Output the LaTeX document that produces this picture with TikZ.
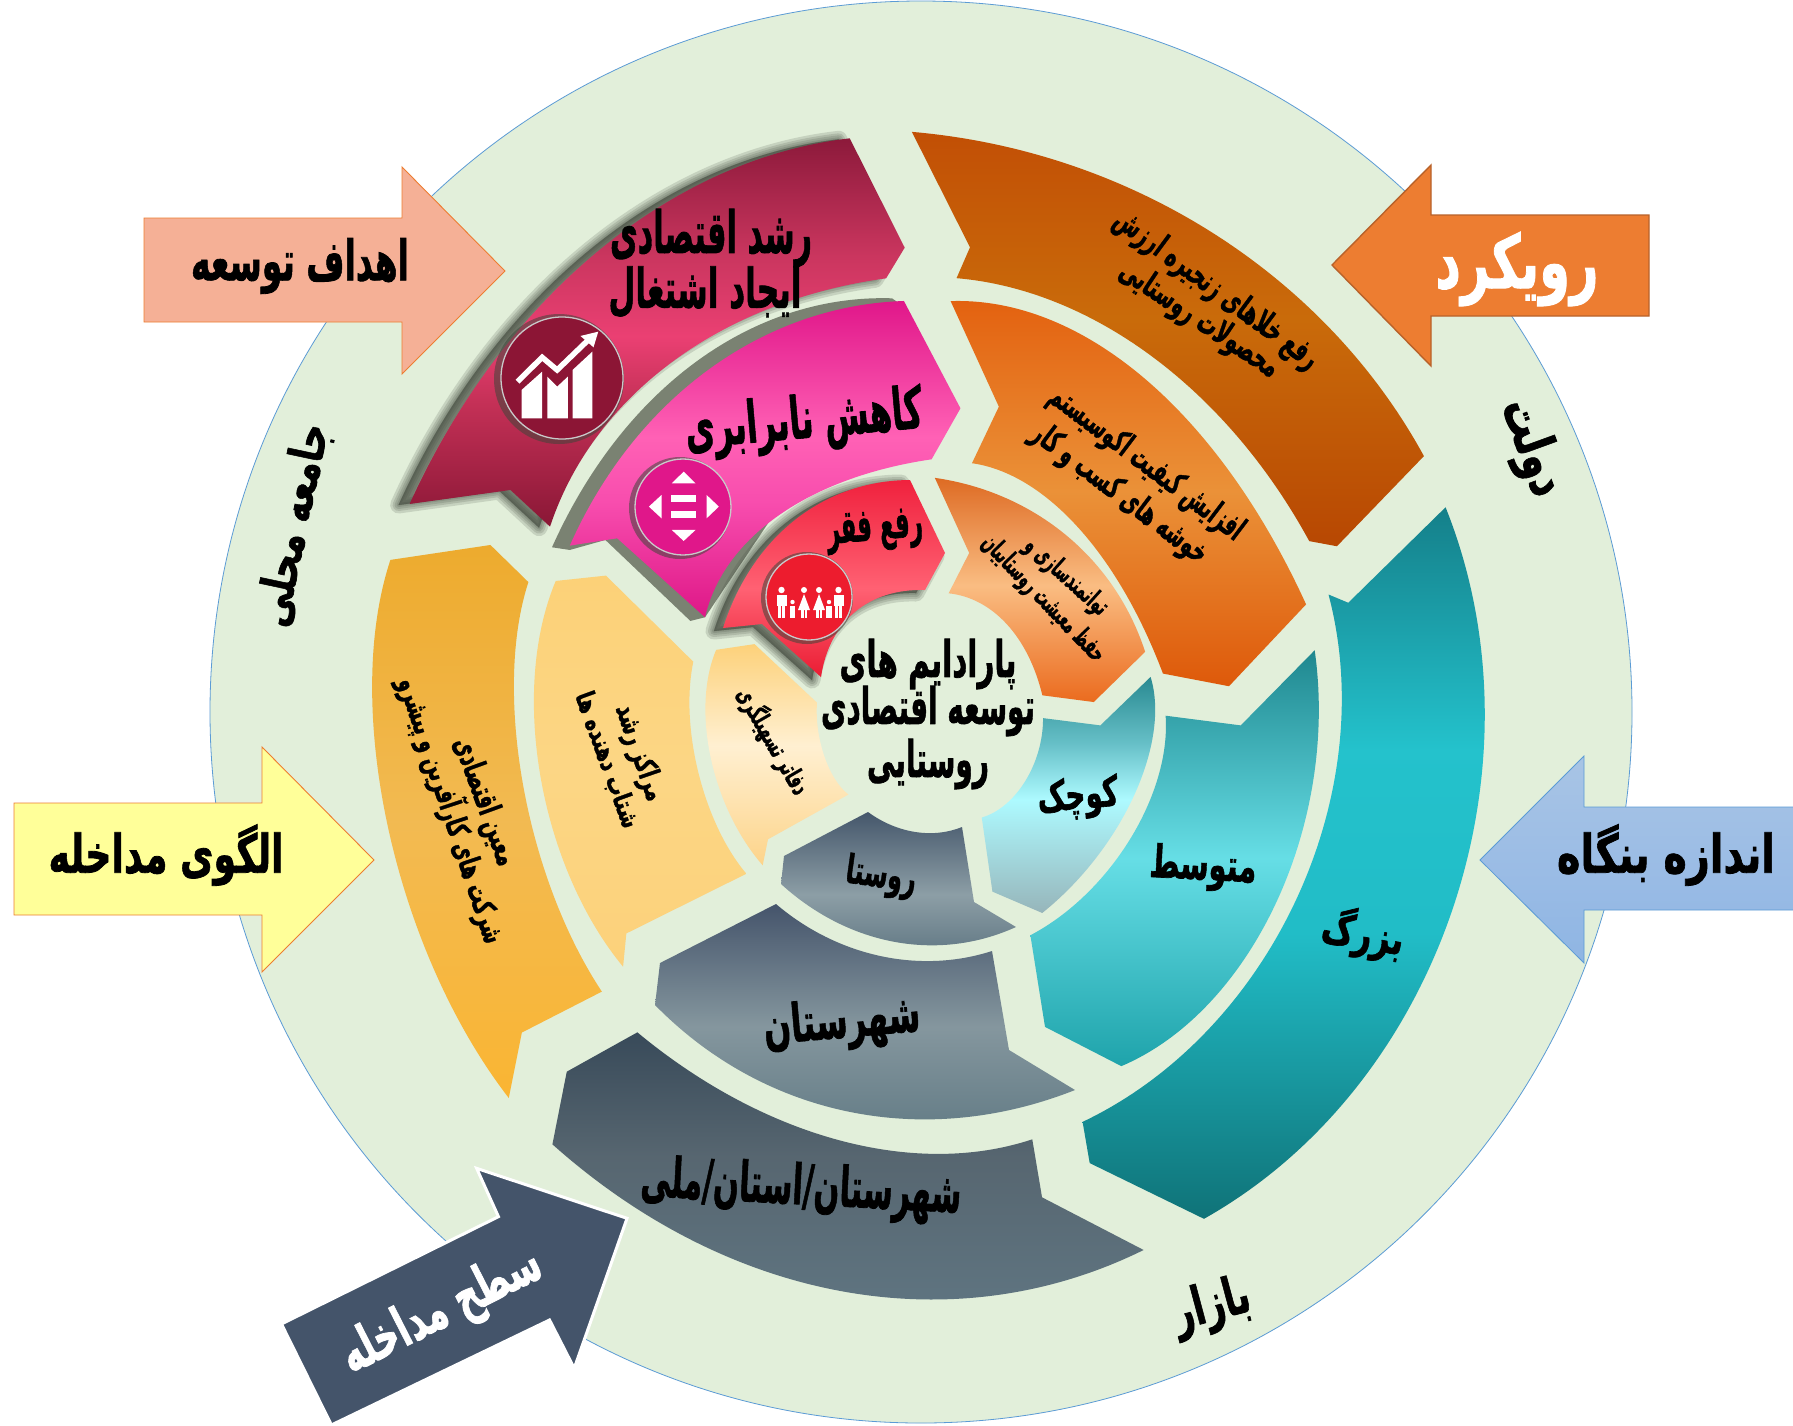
\documentclass[tikz,border=0pt]{standalone}
\usepackage{fontspec}
\usepackage{graphicx}
\usetikzlibrary{calc}
\newfontfamily\arabicfont[Script=Arabic,FakeBold=1.5]{DejaVu Sans Bold}
\TeXXeTstate=1
\newcommand\fa[3]{\resizebox{#1pt}{\totalheight}{\fontsize{#2pt}{#2pt}\selectfont\arabicfont #3}}
\newcommand\defgrad[4]{\pgfdeclareverticalshading{#1}{100bp}{rgb(0bp)=(#2);rgb(25bp)=(#2);#3;rgb(75bp)=(#4);rgb(100bp)=(#4)}}
% a cubic through P0, M, P3 (weights chosen so that it follows a circular arc)
\newcommand\arcg[5]{.. controls ($1.3333*#2+#4*#1-#5*#3$) and ($1.3333*#2-#5*#1+#4*#3$) .. #3}
\newcommand\arcA[3]{\arcg{#1}{#2}{#3}{.0233}{.3567}}
\newcommand\arcB[3]{\arcg{#1}{#2}{#3}{.0583}{.3917}}
\definecolor{shc}{HTML}{3E463A}
\definecolor{grayband}{HTML}{7A8272}
\definecolor{bgc}{HTML}{E2EFDA}
\definecolor{ringc}{HTML}{5B9BD5}
\definecolor{salmonfill}{HTML}{F5B096}
\definecolor{salmonline}{HTML}{ED7D31}
\definecolor{arrowor}{HTML}{ED7D31}
\definecolor{arroworline}{HTML}{B8622A}
\definecolor{yellowfill}{HTML}{FFFF99}
\definecolor{navyfill}{HTML}{44546A}
\definecolor{iconred}{HTML}{8C1535}
\definecolor{iconmag}{HTML}{E0178A}
\definecolor{iconrose}{HTML}{ED1C2E}
\definecolor{ringgray}{HTML}{C9C9C9}
% 25bp = bottom of the shape, 75bp = top
\defgrad{gRosht}{.54,.09,.21}{rgb(41bp)=(.77,.19,.34);rgb(49.5bp)=(.92,.25,.45);rgb(60bp)=(.79,.21,.37)}{.55,.10,.23}
\defgrad{gKah}{.87,.09,.53}{rgb(43bp)=(.97,.30,.68);rgb(53.5bp)=(1,.38,.71)}{.88,.09,.54}
\defgrad{gRafe}{.92,.11,.20}{rgb(47.5bp)=(1,.38,.45)}{.94,.13,.24}
\defgrad{gOrA}{.72,.28,.01}{rgb(52.5bp)=(.79,.42,.04)}{.76,.31,.02}
\defgrad{gOrB}{.87,.35,.04}{rgb(50bp)=(.92,.57,.22)}{.89,.38,.06}
\defgrad{gOrC}{.92,.42,.12}{rgb(51bp)=(.98,.74,.51)}{.87,.42,.14}
\defgrad{gTeA}{.06,.45,.47}{rgb(45bp)=(.13,.74,.78);rgb(58bp)=(.14,.76,.80)}{.08,.50,.54}
\defgrad{gTeB}{.12,.64,.67}{rgb(50bp)=(.40,.87,.90)}{.12,.53,.56}
\defgrad{gTeC}{.59,.71,.73}{rgb(49bp)=(.68,.98,1);rgb(61bp)=(.40,.75,.78)}{.16,.54,.57}
\defgrad{gYeA}{.98,.71,.20}{rgb(50bp)=(.95,.73,.32)}{.93,.67,.18}
\defgrad{gYeB}{.99,.82,.48}{rgb(50bp)=(.99,.84,.52)}{.99,.82,.47}
\defgrad{gYeC}{.99,.83,.54}{rgb(52bp)=(1,.94,.82)}{.99,.82,.48}
\defgrad{gGrA}{.36,.45,.50}{rgb(47.5bp)=(.55,.62,.65)}{.27,.34,.42}
\defgrad{gGrB}{.37,.47,.51}{rgb(50bp)=(.52,.59,.62)}{.27,.33,.42}
\defgrad{gGrC}{.38,.47,.52}{rgb(55bp)=(.34,.40,.44)}{.22,.29,.35}
\defgrad{gBlue}{.56,.71,.89}{rgb(50bp)=(.61,.74,.90)}{.66,.77,.90}
\tikzset{
 zA/.style={shift={(380,120)},x=.3954pt,y=-.3333pt},
 zB/.style={shift={(900,120)},x=.3954pt,y=-.3954pt},
 zC/.style={shift={(370,540)},x=.4082pt,y=-.3827pt},
 zD/.style={shift={(960,500)},x=.3954pt,y=-.4847pt},
 zE/.style={shift={(270,1000)},x=.574pt,y=-.3333pt},
 lab/.style={inner sep=0pt,outer sep=0pt,text=black},
 wlab/.style={inner sep=0pt,outer sep=0pt,text=white},
 ico/.style={fill=white,draw=none}
}
\newcommand\softsh[3]{\foreach \w in {17,12,8,4,1}{\draw[shc,fill=shc,opacity=.17,line width=\w pt,line join=round,xshift=#2pt,yshift=#3pt] #1;}}
\begin{document}
\begin{tikzpicture}[x=1pt,y=-1pt,line join=miter]
\useasboundingbox (0,0) rectangle (1793,1425);
\fill[white] (0,0) rectangle (1793,1425);
\filldraw[fill=bgc,draw=ringc,line width=.8pt] (921,712) circle[radius=711pt];

% --- upper left: goals
\begin{scope}[zA]
\def\pRosht{(75,1152) \arcA{(75,1152)}{(550,395)}{(1188,55)} -- (1327,383) -- (1280,475) \arcA{(1280,475)}{(740,725)}{(430,1220)} -- (330,1110) -- cycle}
\softsh{\pRosht}{-11}{-1}
\shade[shading=gRosht] \pRosht;
\fill[grayband] (435,1282) \arcA{(435,1282)}{(800,725)}{(1295,535)} -- (1325,560) -- (1100,1000) -- (822,1492) -- (785,1503) -- (570,1260) -- (480,1290) -- cycle;
\shade[shading=gKah] (480,1277) \arcA{(480,1277)}{(830,750)}{(1325,543)} -- (1468,865) -- (1395,1018) \arcA{(1395,1018)}{(1010,1185)}{(822,1492)} -- (600,1255) -- cycle;
\end{scope}
% poverty (coordinates in picture pixels)
\def\pRafe{(723,628) \arcA{(723,628)}{(795,520)}{(910,480)} -- (945,553) -- (925,590) \arcA{(925,590)}{(855,612)}{(821,677)} -- (762,624) -- cycle}
\softsh{\pRafe}{-9}{-3}
\shade[shading=gRafe] \pRafe;

% --- upper right: approach
\begin{scope}[zB]
\shade[shading=gOrA] (30,30) \arcA{(30,30)}{(790,285)}{(1325,850)} -- (1105,1078) -- (1035,1065) \arcA{(1035,1065)}{(640,600)}{(143,400)} -- (177,322) -- cycle;
\shade[shading=gOrB] (128,458) \arcA{(128,458)}{(620,655)}{(1027,1225)} -- (832,1432) -- (665,1400) \arcA{(665,1400)}{(450,1030)}{(182,868)} -- (250,725) -- cycle;
\shade[shading=gOrC] (88,905) \arcA{(88,905)}{(420,1050)}{(620,1345)} -- (490,1472) -- (360,1455) \arcA{(360,1455)}{(270,1275)}{(123,1197)} -- (175,1095) -- cycle;
\end{scope}

% --- lower right: firm size
\begin{scope}[zD]
\shade[shading=gTeA] (1228,15) \arcB{(1228,15)}{(1245,846)}{(617,1483)} -- (328,1368) -- (310,1283) \arcB{(310,1283)}{(850,825)}{(932,195)} -- (982,212) -- cycle;
\shade[shading=gTeB] (897,310) \arcB{(897,310)}{(800,830)}{(408,1168)} -- (215,1087) -- (178,898) \arcB{(178,898)}{(430,700)}{(520,445)} -- (710,465) -- cycle;
\shade[shading=gTeC] (482,365) \arcB{(482,365)}{(440,610)}{(208,852)} -- (82,808) -- (55,655) \arcB{(55,655)}{(165,580)}{(210,450)} -- (355,465) -- cycle;
\end{scope}

% --- left: intervention model
\begin{scope}[zC]
\shade[shading=gYeA] (50,52) -- (295,13) -- (388,110) \arcB{(388,110)}{(375,640)}{(568,1180)} -- (372,1287) -- (340,1458) \arcB{(340,1458)}{(45,755)}{(50,52)} -- cycle;
\shade[shading=gYeB] (455,107) -- (578,93) -- (792,318) \arcB{(792,318)}{(805,610)}{(922,872)} -- (628,1028) -- (620,1115) \arcB{(620,1115)}{(418,620)}{(455,107)} -- cycle;
\shade[shading=gYeC] (848,287) -- (942,272) -- (1095,425) \arcB{(1095,425)}{(1113,565)}{(1172,665)} -- (975,782) -- (962,850) \arcB{(962,850)}{(835,570)}{(848,287)} -- cycle;
\end{scope}

% --- bottom: level of intervention
\shade[shading=gGrA] (868,812) -- (784,856) -- (781,884) \arcA{(781,884)}{(895,942)}{(1016,927)} -- (974,902) -- (962,827) \arcA{(962,827)}{(915,832)}{(868,812)} -- cycle;
\shade[shading=gGrB] (776,904) -- (660,963) -- (655,1005) \arcA{(655,1005)}{(850,1112)}{(1075,1090)} -- (1009,1050) -- (992,951) \arcA{(992,951)}{(880,956)}{(776,904)} -- cycle;
\begin{scope}[zE]
\shade[shading=gGrC] (640,97) -- (517,215) -- (492,433) \arcA{(492,433)}{(1000,875)}{(1522,750)} -- (1345,592) -- (1328,418) \arcA{(1328,418)}{(990,420)}{(640,97)} -- cycle;
\end{scope}

% --- block arrows
\filldraw[fill=salmonfill,draw=salmonline,line width=.9pt] (144,218) -- (402,218) -- (402,167) -- (505,271) -- (402,374) -- (402,322) -- (144,322) -- cycle;
\filldraw[fill=arrowor,draw=arroworline,line width=1.4pt] (1649,215) -- (1431,215) -- (1431,165) -- (1332,265) -- (1431,366) -- (1431,316) -- (1649,316) -- cycle;
\shade[shading=gBlue] (1793,807) -- (1584,807) -- (1584,756) -- (1480,860) -- (1584,963) -- (1584,910) -- (1793,910) -- cycle;
\draw[ringc,line width=.8pt] (1793,807) -- (1584,807) -- (1584,756) -- (1480,860) -- (1584,963) -- (1584,910) -- (1793,910);
\filldraw[fill=yellowfill,draw=salmonline,line width=.9pt] (14,803) -- (262,803) -- (262,747) -- (374,860) -- (262,972) -- (262,915) -- (14,915) -- cycle;
\begin{scope}[zE]
\filldraw[fill=navyfill,draw=white,line width=3pt] (20,972) -- (398,650) -- (360,505) -- (622,655) -- (530,1105) -- (487,960) -- (107,1275) -- cycle;
\end{scope}

% --- icons
\fill[shc,opacity=.55] (559,379) circle[radius=65pt];
\filldraw[fill=iconred,draw=ringgray,line width=1.3pt] (562,378) circle[radius=61pt];
\begin{scope}[zA]
\fill[ico] (358,810) -- (410,755) -- (410,895) -- (358,895) -- cycle;
\fill[ico] (423,770) -- (448,800) -- (475,770) -- (475,895) -- (423,895) -- cycle;
\fill[ico] (487,750) -- (537,695) -- (537,895) -- (487,895) -- cycle;
\draw[white,line width=5.5pt] (348,785) -- (410,712) -- (448,750) -- (525,662);
\fill[ico] (507,648) -- (552,635) -- (540,682) -- cycle;
\end{scope}
\fill[shc,opacity=.55] (680,508) circle[radius=51pt];
\filldraw[fill=iconmag,draw=ringgray,line width=1.3pt] (683,507) circle[radius=48pt];
\begin{scope}[zA]
\fill[ico] (768,1055) -- (798,1090) -- (738,1090) -- cycle;
\fill[ico] (738,1230) -- (798,1230) -- (768,1263) -- cycle;
\fill[ico] (712,1125) -- (712,1195) -- (680,1160) -- cycle;
\fill[ico] (826,1125) -- (826,1195) -- (857,1160) -- cycle;
\fill[ico] (737,1125) rectangle (800,1147);
\fill[ico] (737,1172) rectangle (800,1195);
\end{scope}
\fill[shc,opacity=.55] (807,598) circle[radius=46pt];
\filldraw[fill=iconrose,draw=ringgray,line width=1.3pt] (809,597) circle[radius=43pt];
\foreach \m in {781.5,838.5}{
 \fill[ico] (\m,590) circle[radius=3.2pt];
 \fill[ico] (\m-5,595) rectangle (\m+5,606);
 \fill[ico] (\m-3.6,606) rectangle (\m-.5,618);
 \fill[ico] (\m+.5,606) rectangle (\m+3.6,618);
}
\foreach \m in {804,819}{
 \fill[ico] (\m,590) circle[radius=3pt];
 \fill[ico] (\m,594) -- (\m+6,610) -- (\m-6,610) -- cycle;
 \fill[ico] (\m-3,610) rectangle (\m-.5,618);
 \fill[ico] (\m+.5,610) rectangle (\m+3,618);
}
\foreach \m in {792.5,829}{
 \fill[ico] (\m,602) circle[radius=2.2pt];
 \fill[ico] (\m-2.6,605.5) rectangle (\m+2.6,618);
}

% --- labels
\node[lab] (tRoshd) at (711,238) {\fa{202}{44}{\beginR رشد اقتصادی\endR}};
\node[lab] (tEjad) at (705,292) {\fa{193}{44}{\beginR ایجاد اشتغال\endR}};
\node[lab,rotate=5] (tKah) at (804,423) {\fa{238}{44}{\beginR کاهش نابرابری\endR}};
\node[lab,rotate=5] (tRafe) at (875,531) {\fa{96}{33}{\beginR رفع فقر\endR}};
\node[lab] (tP1) at (928,664) {\fa{177}{38}{\beginR پارادایم های\endR}};
\node[lab] (tP2) at (928,711) {\fa{214}{38}{\beginR توسعه اقتصادی\endR}};
\node[lab] (tP3) at (928,764) {\fa{122}{38}{\beginR روستایی\endR}};
\node[lab,rotate=-36.5] (tOa1) at (1216,290) {\fa{246}{25}{\beginR رفع خلاهای زنجیره ارزش\endR}};
\node[lab,rotate=-33.7] (tOa2) at (1199,320) {\fa{185}{25}{\beginR محصولات روستایی\endR}};
\node[lab,rotate=-37] (tOb1) at (1146,464) {\fa{235}{25}{\beginR افزایش کیفیت اکوسیستم\endR}};
\node[lab,rotate=-37] (tOb2) at (1119,494) {\fa{212}{25}{\beginR خوشه های کسب و کار\endR}};
\node[lab,rotate=-42] (tOc1) at (1066,577) {\fa{103}{20}{\beginR توانمندسازی و\endR}};
\node[lab,rotate=-46] (tOc2) at (1043,599) {\fa{166}{20}{\beginR حفظ معیشت روستاییان\endR}};
\node[lab,rotate=5] (tKuc) at (1078,798) {\fa{81}{32}{\beginR کوچک\endR}};
\node[lab,rotate=-3] (tMot) at (1203,868) {\fa{107}{34}{\beginR متوسط\endR}};
\node[lab,rotate=-10] (tBoz) at (1363,934) {\fa{83}{34}{\beginR بزرگ\endR}};
\node[lab,rotate=-8] (tRus) at (881,877) {\fa{71}{30}{\beginR روستا\endR}};
\node[lab,rotate=5] (tSha) at (842,1024) {\fa{157}{40}{\beginR شهرستان\endR}};
\node[lab,rotate=-3] (tOst) at (801,1190) {\fa{321}{42}{\beginR شهرستان/استان/ملی\endR}};
\node[lab,rotate=-60] (tDaf) at (773,741) {\fa{119}{20}{\beginR دفاتر تسهیلگری\endR}};
\node[lab,rotate=-71] (tMar) at (639,753) {\fa{100}{22}{\beginR مراکز رشد\endR}};
\node[lab,rotate=-70] (tSht) at (607,760) {\fa{143}{22}{\beginR شتاب دهنده ها\endR}};
\node[lab,rotate=-70] (tMoa) at (484,802) {\fa{134}{24}{\beginR معین اقتصادی\endR}};
\node[lab,rotate=-71.6] (tShe) at (452,810) {\fa{278}{24}{\beginR شرکت های کارآفرین و پیشرو\endR}};
\node[lab] (tAhd) at (300,266) {\fa{218}{42}{\beginR اهداف توسعه\endR}};
\node[wlab] (tRuy) at (1517,269) {\fa{163}{56}{\beginR رویکرد\endR}};
\node[lab] (tAnd) at (1666,855) {\fa{218}{42}{\beginR اندازه بنگاه\endR}};
\node[lab] (tOlg) at (166,855) {\fa{235}{42}{\beginR الگوی مداخله\endR}};
\node[wlab,rotate=27] (tSat) at (442,1312) {\fa{218}{42}{\beginR سطح مداخله\endR}};
\node[lab,rotate=-70] (tDol) at (1531,448) {\fa{100}{40}{\beginR دولت\endR}};
\node[lab,rotate=15] (tBaz) at (1212,1307) {\fa{78}{40}{\beginR بازار\endR}};
\node[lab,rotate=78] (tJam) at (294,525) {\fa{206}{38}{\beginR جامعه محلی\endR}};
\end{tikzpicture}
\end{document}
